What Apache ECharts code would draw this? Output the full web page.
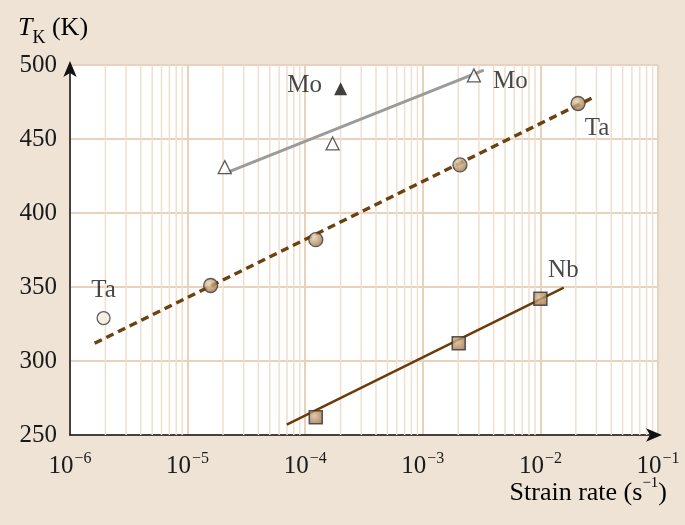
<!DOCTYPE html>
<html>
<head>
<meta charset="utf-8">
<script src="https://cdn.jsdelivr.net/npm/echarts@6/dist/echarts.min.js"></script>
<style>
html,body{margin:0;padding:0;background:#EFE3D6;}
#c{width:685px;height:525px;}
</style>
</head>
<body>
<div id="c"></div>
<script>
// ---- data (strain rate s^-1, temperature K) ----
const xTickExponents = [-6, -5, -4, -3, -2, -1];
const yTicks = [250, 300, 350, 400, 450, 500];

const moOpenRate = [2.07e-5, 1.71e-4, 2.72e-3];
const moOpenT    = [431, 447, 493];
const moFilledRate = [2.0e-4];
const moFilledT    = [484];
const moLineRate = [2.1e-5, 3.3e-3];
const moLineT    = [427, 496.5];

const taRate = [1.57e-5, 1.23e-4, 2.07e-3, 2.09e-2];
const taT    = [351, 382, 432.5, 474];
const taOpenRate = [1.93e-6];
const taOpenT    = [329];
const taLineRate = [1.62e-6, 2.97e-2];
const taLineT    = [312, 479];

const nbRate = [1.23e-4, 2.02e-3, 1.0e-2];
const nbT    = [262, 312, 342];
const nbLineRate = [6.97e-5, 1.58e-2];
const nbLineT    = [257, 349.5];

// minor grid positions (2..9 x 10^n)
const minorMultipliers = [2, 3, 4, 5, 6, 7, 8, 9];

function pairs(xs, ys){ return xs.map((x,i)=>[x, ys[i]]); }

// minor vertical grid lines, as one broken line series through the log axis
const minorGrid = [];
for (let e = -6; e < -1; e++) {
  minorMultipliers.forEach(m => {
    const v = m * Math.pow(10, e);
    minorGrid.push([v, yTicks[0]], [v, yTicks[yTicks.length - 1]], [v, null]);
  });
}

const serif = '"Liberation Serif", "DejaVu Serif", serif';
const ballGrad = {
  type: 'radial', x: 0.38, y: 0.35, r: 0.75,
  colorStops: [{offset: 0, color: '#ECD3B0'}, {offset: 1, color: '#8A6036'}]
};
const boxGrad = {
  type: 'radial', x: 0.4, y: 0.4, r: 0.8,
  colorStops: [{offset: 0, color: '#DDBC92'}, {offset: 1, color: '#8A6036'}]
};
const lblStyle = { fontFamily: serif, fontSize: 25, color: '#1a1a1a' };

const chart = echarts.init(document.getElementById('c'), null, {renderer: 'canvas'});
chart.setOption({
  backgroundColor: '#EFE3D6',
  animation: false,
  grid: { left: 70, right: 27, top: 65, bottom: 90, show: true, backgroundColor: '#ffffff', borderWidth: 0 },
  xAxis: {
    type: 'log', logBase: 10, min: 1e-6, max: 1e-1,
    axisLine: { onZero: false, lineStyle: { color: '#111', width: 1.5 }, symbol: ['none', 'arrow'], symbolSize: [10, 16], symbolOffset: [0, 4] },
    axisTick: { show: false },
    splitLine: { show: true, lineStyle: { color: '#E8D2BB', width: 2 } },
    axisLabel: {
      margin: 16,
      formatter: function (v) {
        const e = Math.round(Math.log10(v));
        return '{b|10}{s|' + String(e).replace('-', '\u2212') + '}';
      },
      rich: {
        b: { fontFamily: serif, fontSize: 25, color: '#1a1a1a', verticalAlign: 'bottom', lineHeight: 28 },
        s: { fontFamily: serif, fontSize: 16, color: '#1a1a1a', verticalAlign: 'top', lineHeight: 28, padding: [0, 0, 11, 1] }
      }
    }
  },
  yAxis: {
    type: 'value', min: 250, max: 500, interval: 50,
    axisLine: { show: true, lineStyle: { color: '#111', width: 1.5 }, symbol: ['none', 'arrow'], symbolSize: [10, 16], symbolOffset: [0, 4] },
    axisTick: { show: false },
    splitLine: { show: true, lineStyle: { color: '#E8D2BB', width: 2 } },
    axisLabel: { margin: 13, fontFamily: serif, fontSize: 25, color: '#1a1a1a' }
  },
  graphic: [
    { type: 'text', left: 18, top: 15, style: {
      text: '{i|T}{k|K}{n| (K)}',
      rich: {
        i: { fontFamily: serif, fontStyle: 'italic', fontSize: 26, color: '#1a1a1a' },
        k: { fontFamily: serif, fontSize: 18, color: '#1a1a1a', verticalAlign: 'bottom', padding: [0, 0, -6, 0] },
        n: { fontFamily: serif, fontSize: 26, color: '#1a1a1a' }
      }
    }},
    { type: 'text', right: 18, top: 476, style: {
      text: '{n|Strain rate (s}{s|\u22121}{n|)}',
      rich: {
        n: { fontFamily: serif, fontSize: 26, color: '#1a1a1a', verticalAlign: 'bottom', lineHeight: 30 },
        s: { fontFamily: serif, fontSize: 15, color: '#1a1a1a', verticalAlign: 'top', lineHeight: 30, padding: [0, 0, 12, 0] }
      }
    }}
  ],
  series: [
    { name: 'minor grid', type: 'line', data: minorGrid, silent: true, showSymbol: false, connectNulls: false, z: 0,
      lineStyle: { color: '#EFDFCE', width: 1.5 } },
    { name: 'Mo line', type: 'line', data: pairs(moLineRate, moLineT), showSymbol: false, silent: true,
      lineStyle: { color: '#9B9B9B', width: 3 } },
    { name: 'Ta line', type: 'line', data: pairs(taLineRate, taLineT), showSymbol: false, silent: true,
      lineStyle: { color: '#6B4210', width: 3.5, type: [8, 5] } },
    { name: 'Nb line', type: 'line', data: pairs(nbLineRate, nbLineT), showSymbol: false, silent: true,
      lineStyle: { color: '#6B3C0A', width: 2.5 } },
    { name: 'Mo open', type: 'scatter', symbol: 'triangle', symbolSize: 13, z: 5, data: pairs(moOpenRate, moOpenT),
      itemStyle: { color: '#ffffff', borderColor: '#333', borderWidth: 1.3 },
      label: { show: true, position: 'right', distance: 12, offset: [0, 6], ...lblStyle,
        formatter: p => p.dataIndex === moOpenRate.length - 1 ? 'Mo' : '' } },
    { name: 'Mo filled', type: 'scatter', symbol: 'triangle', symbolSize: 13, z: 5, data: pairs(moFilledRate, moFilledT),
      itemStyle: { color: '#111' },
      label: { show: true, position: 'left', distance: 12, offset: [0, -3], ...lblStyle, formatter: 'Mo' } },
    { name: 'Ta', type: 'scatter', symbol: 'circle', symbolSize: 14, z: 5, data: pairs(taRate, taT),
      itemStyle: { color: ballGrad, borderColor: '#3a3a3a', borderWidth: 1.3 },
      label: { show: true, position: 'bottom', distance: 5, offset: [19, 0], ...lblStyle,
        formatter: p => p.dataIndex === taRate.length - 1 ? 'Ta' : '' } },
    { name: 'Ta open', type: 'scatter', symbol: 'circle', symbolSize: 13, z: 5, data: pairs(taOpenRate, taOpenT),
      itemStyle: { color: '#F4EBDD', borderColor: '#3a3a3a', borderWidth: 1.3 },
      label: { show: true, position: 'top', distance: 8, ...lblStyle, formatter: 'Ta' } },
    { name: 'Nb', type: 'scatter', symbol: 'rect', symbolSize: 13, z: 5, data: pairs(nbRate, nbT),
      itemStyle: { color: boxGrad, borderColor: '#333', borderWidth: 1.5 },
      label: { show: true, position: 'top', distance: 9, offset: [23, 0], ...lblStyle,
        formatter: p => p.dataIndex === nbRate.length - 1 ? 'Nb' : '' } }
  ]
});
</script>
</body>
</html>
